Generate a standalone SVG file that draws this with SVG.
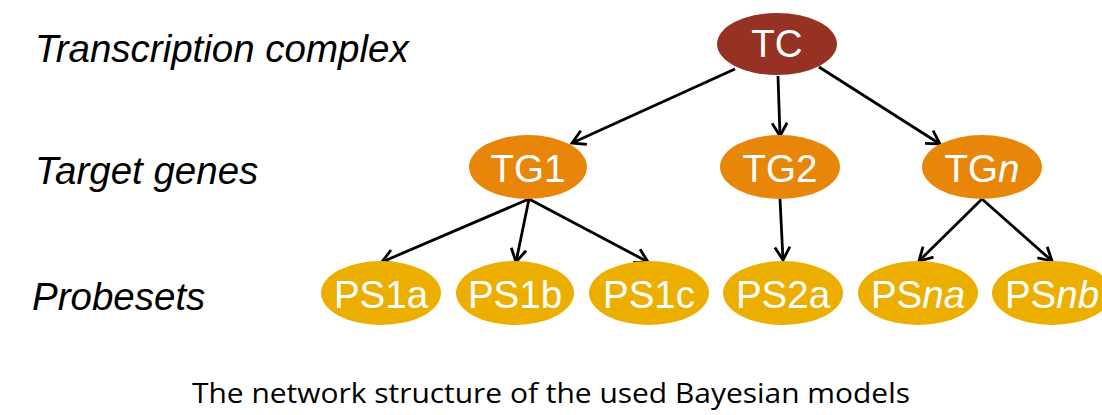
<svg xmlns="http://www.w3.org/2000/svg" width="1102" height="415" viewBox="0 0 1102 415">
  <style>
    .lvl { font-family: "Liberation Sans", Arial, sans-serif; font-style: italic; font-size: 38.5px; fill: #000; }
    .lbl { font-family: "Liberation Sans", Arial, sans-serif; font-size: 38.5px; fill: #fff; text-anchor: middle; }
    .tc { fill: #963224; }
    .tg { fill: #E8860A; }
    .ps { fill: #ECAF00; }
    .edge { stroke: #000; stroke-width: 2.8; fill: none; marker-end: url(#arr); }
    .cap { font-family: "Open Sans", "Noto Sans", sans-serif; font-size: 28px; fill: #000; }
  </style>
  <defs>
    <marker id="arr" markerUnits="userSpaceOnUse" viewBox="-16 -9 18 18" refX="0" refY="0" markerWidth="18" markerHeight="18" orient="auto">
      <path d="M-13,-7.5 L0,0 L-13,7.5" fill="none" stroke="#000" stroke-width="2.8" stroke-linejoin="miter"/>
    </marker>
  </defs>
  <rect width="1102" height="415" fill="#fff"/>

  <!-- level labels -->
  <text class="lvl" x="35" y="62">Transcription complex</text>
  <text class="lvl" x="35" y="184">Target genes</text>
  <text class="lvl" x="32" y="310">Probesets</text>

  <!-- connectors -->
  <g id="edges">
    <line class="edge" x1="735" y1="69" x2="572" y2="143"/>
    <line class="edge" x1="778" y1="76" x2="780" y2="136"/>
    <line class="edge" x1="819" y1="67" x2="940" y2="144"/>
    <line class="edge" x1="529" y1="199" x2="382" y2="262"/>
    <line class="edge" x1="529" y1="199" x2="516" y2="262"/>
    <line class="edge" x1="529" y1="199" x2="648" y2="262"/>
    <line class="edge" x1="780" y1="199" x2="783" y2="260"/>
    <line class="edge" x1="982" y1="199" x2="919" y2="261"/>
    <line class="edge" x1="982" y1="199" x2="1052" y2="261"/>
  </g>

  <!-- transcription complex -->
  <g id="TC">
    <ellipse class="tc" cx="777" cy="44" rx="60" ry="31"/>
    <text class="lbl" x="777" y="57">TC</text>
  </g>

  <!-- target genes -->
  <g id="TG1">
    <ellipse class="tg" cx="528" cy="167" rx="59" ry="32"/>
    <text class="lbl" x="528" y="182">TG1</text>
  </g>
  <g id="TG2">
    <ellipse class="tg" cx="780" cy="167" rx="60" ry="32"/>
    <text class="lbl" x="780" y="182">TG2</text>
  </g>
  <g id="TGn">
    <ellipse class="tg" cx="982" cy="167" rx="60" ry="32"/>
    <text class="lbl" x="982" y="182">TG<tspan font-style="italic">n</tspan></text>
  </g>

  <!-- probesets -->
  <g id="PS1a">
    <ellipse class="ps" cx="381" cy="293" rx="60" ry="32"/>
    <text class="lbl" x="381" y="308">PS1a</text>
  </g>
  <g id="PS1b">
    <ellipse class="ps" cx="515" cy="293" rx="59" ry="32"/>
    <text class="lbl" x="515" y="308">PS1b</text>
  </g>
  <g id="PS1c">
    <ellipse class="ps" cx="649" cy="293" rx="60" ry="32"/>
    <text class="lbl" x="649" y="308">PS1c</text>
  </g>
  <g id="PS2a">
    <ellipse class="ps" cx="783" cy="293" rx="60" ry="32"/>
    <text class="lbl" x="783" y="308">PS2a</text>
  </g>
  <g id="PSna">
    <ellipse class="ps" cx="918" cy="293" rx="60" ry="32"/>
    <text class="lbl" x="918" y="308">PS<tspan font-style="italic">na</tspan></text>
  </g>
  <g id="PSnb">
    <ellipse class="ps" cx="1052" cy="293" rx="60" ry="32"/>
    <text class="lbl" x="1052" y="308">PS<tspan font-style="italic">nb</tspan></text>
  </g>

  <!-- caption -->
  <text class="cap" x="192" y="403" textLength="718" lengthAdjust="spacingAndGlyphs">The network structure of the used Bayesian models</text>
</svg>
